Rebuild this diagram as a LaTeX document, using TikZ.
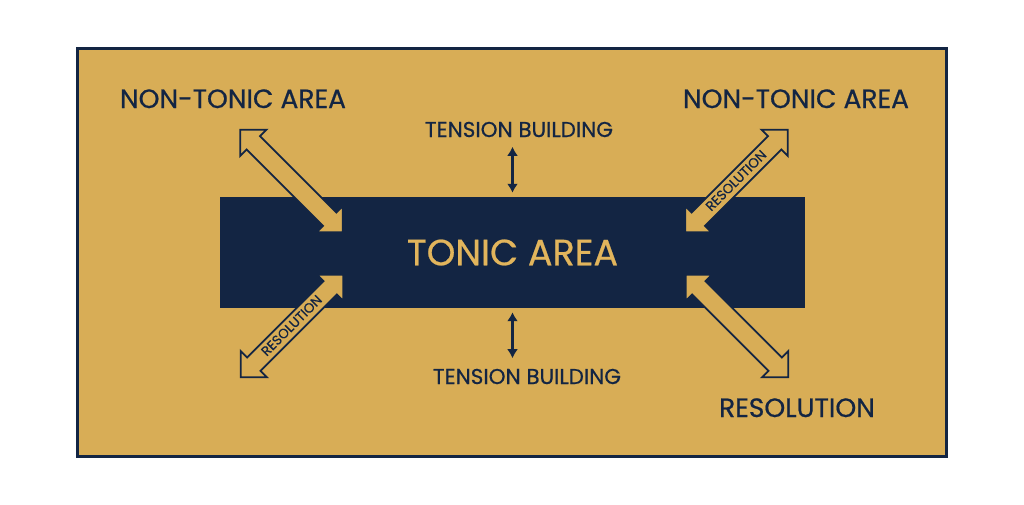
\documentclass[tikz,border=0pt]{standalone}
\usepackage{fontspec}
\setmainfont{Poppins}[FakeBold=0.6]
\usetikzlibrary{positioning,arrows.meta,shapes.arrows}
\definecolor{tonicgold}{RGB}{216,173,86}
\definecolor{tonicnavy}{RGB}{19,37,67}
\definecolor{labelgold}{RGB}{226,181,92}

\begin{document}
\begin{tikzpicture}[x=1pt, y=-1pt,
  frame/.style={draw=tonicnavy, fill=tonicgold, line width=3pt},
  tonic/.style={fill=tonicnavy, minimum width=585pt, minimum height=111pt,
                inner sep=0pt, text=labelgold, font=\fontsize{36.5}{36.5}\selectfont},
  area/.style={text=tonicnavy, font=\fontsize{26.5}{26.5}\selectfont, inner sep=0pt, anchor=base},
  buildlabel/.style={text=tonicnavy, font=\fontsize{21.5}{21.5}\selectfont, inner sep=0pt, anchor=base},
  move/.style={double arrow, draw=tonicnavy, fill=tonicgold, line width=1.8pt,
               minimum height=145pt, minimum width=37pt, double arrow head extend=9pt,
               double arrow tip angle=90, inner xsep=0pt, inner ysep=4.5pt,
               text height=8pt, text depth=0pt, text=tonicnavy,
               font=\fontsize{13.5}{13.5}\selectfont},
  push/.style={{Latex[length=9pt,width=11pt]}-{Latex[length=9pt,width=11pt]},
               line width=2.5pt, draw=tonicnavy}
]
\useasboundingbox (0,0) rectangle (1024,504);
\fill[white] (0,0) rectangle (1024,504);
\draw[frame] (77,48) rectangle (946,456);

\node[tonic] (tonic) at (512.5,252.5) {TONIC AREA};

\node[area] (nontonicL) at (233,108) {NON-TONIC AREA};
\node[area] (nontonicR) at (796,108) {NON-TONIC AREA};
\node[area] (resolution) at (797,417) {RESOLUTION};
\node[buildlabel] (tensionT) at (519,137) {TENSION BUILDING};
\node[buildlabel] (tensionB) at (527,384) {TENSION BUILDING};

% diagonal moves between the areas
\node[move, rotate=-45] (moveTL) at (291.5,181) {};
\node[move, rotate=45] (moveTR) at (736.5,181) {RESOLUTION};
\node[move, rotate=45] (moveBL) at (292,326) {RESOLUTION};
\node[move, rotate=-45] (moveBR) at (737,326) {};

\draw[push] ([yshift=4pt]tonic.north) -- ([yshift=50pt]tonic.north);
\draw[push] ([yshift=-4pt]tonic.south) -- ([yshift=-50pt]tonic.south);
\end{tikzpicture}
\end{document}
